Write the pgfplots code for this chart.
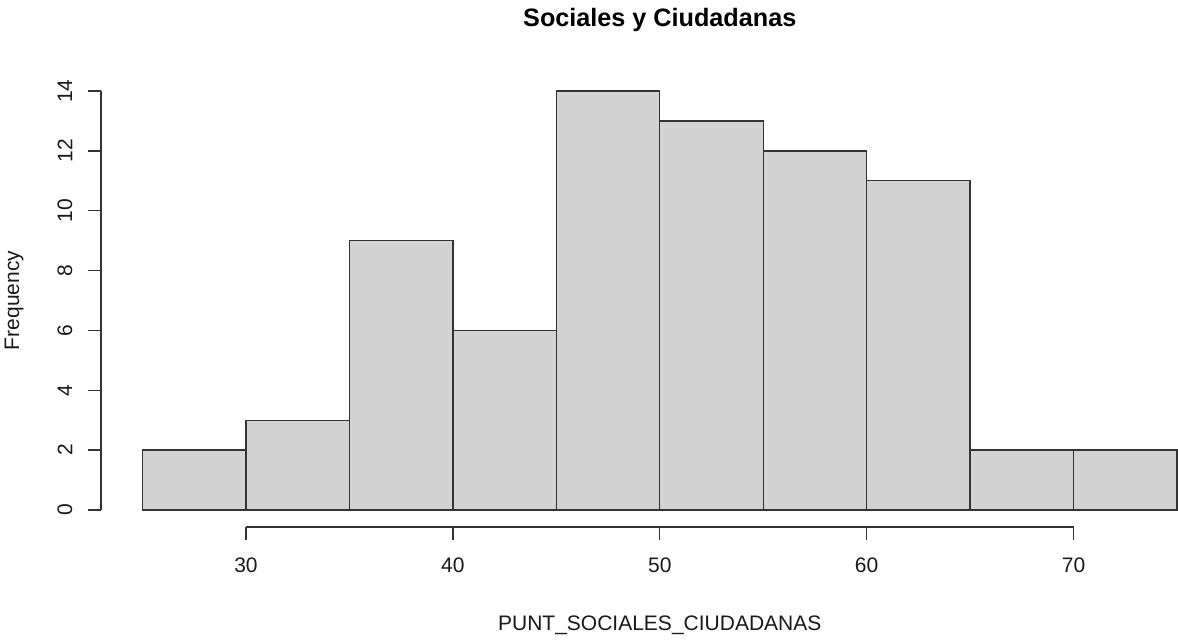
\documentclass[border=0pt]{standalone}
\usepackage{pgfplots}
\pgfplotsset{compat=1.18}
\usepackage{fontspec}
\setmainfont{Liberation Sans}
\definecolor{histfill}{HTML}{D3D3D3}
\definecolor{axisgray}{HTML}{333333}
\begin{document}
\begin{tikzpicture}
\path[use as bounding box] (-71.25pt,-64.5pt) rectangle (517.75pt,255pt);
\begin{axis}[
  at={(0,0)}, anchor=origin,
  scale only axis,
  width=517.25pt, height=209.5pt,
  xmin=25, xmax=75, ymin=0, ymax=14,
  hide axis,
  clip=false,
  font=\fontsize{10.5pt}{12pt}\selectfont,
]
\addplot[ybar interval, fill=histfill, draw=axisgray, line width=0.7pt]
  coordinates {(25,2) (30,3) (35,9) (40,6) (45,14) (50,13) (55,12) (60,11) (65,2) (70,2) (75,2)};

% x axis (R style, from first to last tick, offset below the bars)
\draw[axisgray, line width=0.7pt] ([yshift=-8.5pt]axis cs:30,0) -- ([yshift=-8.5pt]axis cs:70,0);
\pgfplotsinvokeforeach{30,40,50,60,70}{
  \draw[axisgray, line width=0.7pt] ([yshift=-8.5pt]axis cs:#1,0) -- ([yshift=-15pt]axis cs:#1,0);
  \node[anchor=center, text=black!90] at ([yshift=-27.5pt]axis cs:#1,0) {#1};
}
% y axis
\draw[axisgray, line width=0.7pt] ([xshift=-20.75pt]axis cs:25,0) -- ([xshift=-20.75pt]axis cs:25,14);
\pgfplotsinvokeforeach{0,2,4,6,8,10,12,14}{
  \draw[axisgray, line width=0.7pt] ([xshift=-20.75pt]axis cs:25,#1) -- ([xshift=-27.25pt]axis cs:25,#1);
  \node[anchor=center, rotate=90, text=black!90] at ([xshift=-38.75pt]axis cs:25,#1) {#1};
}
% titles
\node[anchor=center, font=\fontsize{12.6pt}{14pt}\selectfont\bfseries] at ([yshift=35.5pt]axis cs:50,14) {Sociales y Ciudadanas};
\node[anchor=center, text=black!90] at ([yshift=-57.5pt]axis cs:50,0) {PUNT\_SOCIALES\_CIUDADANAS};
\node[anchor=center, rotate=90, text=black!90] at ([xshift=-64.25pt]axis cs:25,7) {Frequency};
\end{axis}
\end{tikzpicture}
\end{document}
